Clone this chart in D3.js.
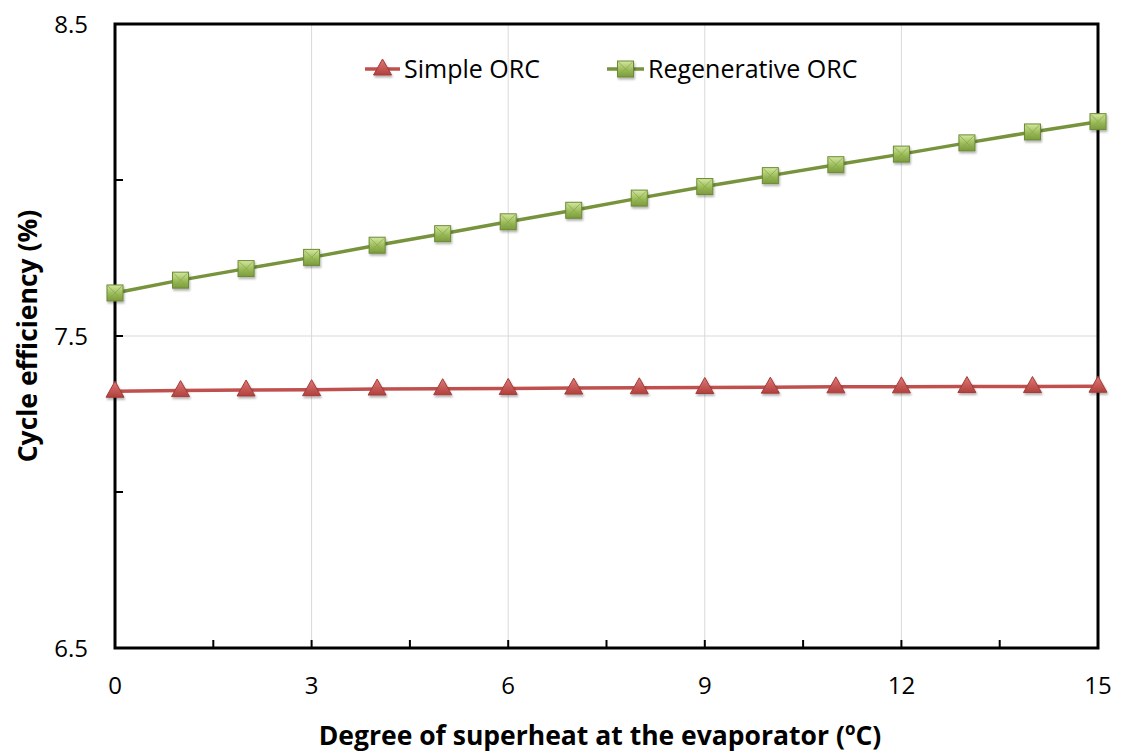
<!DOCTYPE html>
<html>
<head>
<meta charset="utf-8">
<script src="https://cdn.jsdelivr.net/npm/d3@7"></script>
<style>
  body { margin: 0; background: #fff; }
  svg { font-family: "Open Sans", Lato, sans-serif; }
</style>
</head>
<body>
<svg id="chart" width="1124" height="754"></svg>
<script>
const superheat = [0, 1, 2, 3, 4, 5, 6, 7, 8, 9, 10, 11, 12, 13, 14, 15];
const simpleORC = [7.323, 7.325, 7.327, 7.328, 7.330, 7.331, 7.332, 7.333, 7.334, 7.335, 7.336, 7.337, 7.337, 7.338, 7.338, 7.339];
const regenORC = [7.638, 7.679, 7.716, 7.752, 7.791, 7.828, 7.866, 7.903, 7.942, 7.979, 8.014, 8.049, 8.083, 8.119, 8.154, 8.187];
const xMajor = [0, 3, 6, 9, 12, 15];
const xMinor = [1.5, 4.5, 7.5, 10.5, 13.5];
const yMajor = [6.5, 7.5, 8.5];
const yMinor = [7.0, 8.0];

const svg = d3.select("svg#chart");
const margin = { top: 24, right: 26, bottom: 106, left: 115 };
const width = +svg.attr("width");
const height = +svg.attr("height");
const chartWidth = width - margin.left - margin.right;
const chartHeight = height - margin.top - margin.bottom;

const xScale = d3.scaleLinear([0, 15], [0, chartWidth]);
const yScale = d3.scaleLinear([6.5, 8.5], [chartHeight, 0]);

const defs = svg.append("defs");
const gGrad = defs.append("linearGradient").attr("id", "gsq").attr("x1", 0).attr("y1", 0).attr("x2", 0).attr("y2", 1);
gGrad.append("stop").attr("offset", "0%").attr("stop-color", "#d4e8a0");
gGrad.append("stop").attr("offset", "55%").attr("stop-color", "#9bbb59");
gGrad.append("stop").attr("offset", "100%").attr("stop-color", "#7a9a3c");
const rGrad = defs.append("linearGradient").attr("id", "rtri").attr("x1", 0).attr("y1", 0).attr("x2", 0).attr("y2", 1);
rGrad.append("stop").attr("offset", "0%").attr("stop-color", "#e07a77");
rGrad.append("stop").attr("offset", "100%").attr("stop-color", "#b0403d");
const shadow = defs.append("filter").attr("id", "shadow").attr("x", "-50%").attr("y", "-50%").attr("width", "200%").attr("height", "200%");
shadow.append("feDropShadow").attr("dx", 1).attr("dy", 2).attr("stdDeviation", 1.2).attr("flood-color", "#000").attr("flood-opacity", 0.3);

const chart = svg.append("g").attr("transform", `translate(${margin.left},${margin.top})`);

// grid
chart.append("g")
  .selectAll("line.vgrid")
  .data(xMajor.slice(1, -1))
  .join("line")
  .attr("x1", (d) => xScale(d)).attr("x2", (d) => xScale(d))
  .attr("y1", 0).attr("y2", chartHeight)
  .attr("stroke", "#d9d9d9").attr("stroke-width", 1);
chart.append("g")
  .selectAll("line.hgrid")
  .data(yMajor.slice(1, -1))
  .join("line")
  .attr("x1", 0).attr("x2", chartWidth)
  .attr("y1", (d) => yScale(d)).attr("y2", (d) => yScale(d))
  .attr("stroke", "#d9d9d9").attr("stroke-width", 1);

// frame
chart.append("rect")
  .attr("width", chartWidth).attr("height", chartHeight)
  .attr("fill", "none").attr("stroke", "#000").attr("stroke-width", 3);

// ticks (inside)
const xTicks = xMajor.slice(1, -1).concat(xMinor);
chart.append("g").selectAll("line")
  .data(xTicks).join("line")
  .attr("x1", (d) => xScale(d)).attr("x2", (d) => xScale(d))
  .attr("y1", chartHeight).attr("y2", chartHeight - 8)
  .attr("stroke", "#000").attr("stroke-width", 2);
chart.append("g").selectAll("line")
  .data(yMajor.slice(1, -1).concat(yMinor)).join("line")
  .attr("x1", 0).attr("x2", 8)
  .attr("y1", (d) => yScale(d)).attr("y2", (d) => yScale(d))
  .attr("stroke", "#000").attr("stroke-width", 2);

// tick labels
chart.append("g").selectAll("text")
  .data(xMajor).join("text")
  .attr("x", (d) => xScale(d)).attr("y", chartHeight + 46)
  .attr("text-anchor", "middle").attr("font-size", 24).attr("fill", "#000")
  .text((d) => d);
chart.append("g").selectAll("text")
  .data(yMajor).join("text")
  .attr("x", -27).attr("y", (d) => yScale(d) + 9)
  .attr("text-anchor", "end").attr("font-size", 24).attr("fill", "#000")
  .text((d) => d.toFixed(1));

// axis titles
const xTitle = svg.append("text")
  .attr("x", 600).attr("y", 745)
  .attr("text-anchor", "middle").attr("font-size", 26.5).attr("font-weight", "bold");
xTitle.append("tspan").text("Degree of superheat at the evaporator (");
xTitle.append("tspan").attr("font-size", 17).attr("dy", -10).text("o");
xTitle.append("tspan").attr("dy", 10).text("C)");
svg.append("text")
  .attr("transform", `translate(37,${margin.top + chartHeight / 2}) rotate(-90)`)
  .attr("text-anchor", "middle").attr("font-size", 26.5).attr("font-weight", "bold")
  .text("Cycle efficiency (%)");

// series
const series = [
  { name: "Simple ORC", values: simpleORC, color: "#c0504d", marker: "tri" },
  { name: "Regenerative ORC", values: regenORC, color: "#77933c", marker: "sq" }
];

const line = d3.line((d, i) => xScale(superheat[i]), (d) => yScale(d));

function drawMarker(g, type) {
  if (type === "tri") {
    g.append("path")
      .attr("d", "M0,-10 L9,6 L-9,6 Z")
      .attr("fill", "url(#rtri)").attr("stroke", "#a33c39").attr("stroke-width", 1)
      .attr("filter", "url(#shadow)");
  } else {
    g.append("rect")
      .attr("x", -8).attr("y", -8).attr("width", 16).attr("height", 16)
      .attr("fill", "url(#gsq)").attr("stroke", "#6b8a35").attr("stroke-width", 1)
      .attr("filter", "url(#shadow)");
    g.append("path")
      .attr("d", "M-7,-7 L0,0 L7,-7 M-7,7 L0,0 L7,7")
      .attr("fill", "none").attr("stroke", "#88a84a").attr("stroke-width", 1).attr("opacity", 0.8);
  }
}

series.forEach((s) => {
  chart.append("path").datum(s.values)
    .attr("d", line).attr("fill", "none")
    .attr("stroke", s.color).attr("stroke-width", 3.5);
  chart.append("g").selectAll("g")
    .data(s.values).join("g")
    .attr("transform", (d, i) => `translate(${xScale(superheat[i])},${yScale(d)})`)
    .each(function () { drawMarker(d3.select(this), s.marker); });
});

// legend
const legendPos = [{ x: 365, text: 404 }, { x: 607, text: 648 }];
series.forEach((s, i) => {
  const lg = svg.append("g");
  const lx = legendPos[i].x;
  lg.append("line")
    .attr("x1", lx).attr("x2", legendPos[i].text - 4)
    .attr("y1", 69).attr("y2", 69)
    .attr("stroke", s.color).attr("stroke-width", 3.5);
  const m = lg.append("g").attr("transform", `translate(${(lx + legendPos[i].text - 4) / 2},69)`);
  drawMarker(m, s.marker);
  lg.append("text")
    .attr("x", legendPos[i].text).attr("y", 78)
    .attr("font-size", 25).attr("fill", "#000")
    .text(s.name);
});
</script>
</body>
</html>
